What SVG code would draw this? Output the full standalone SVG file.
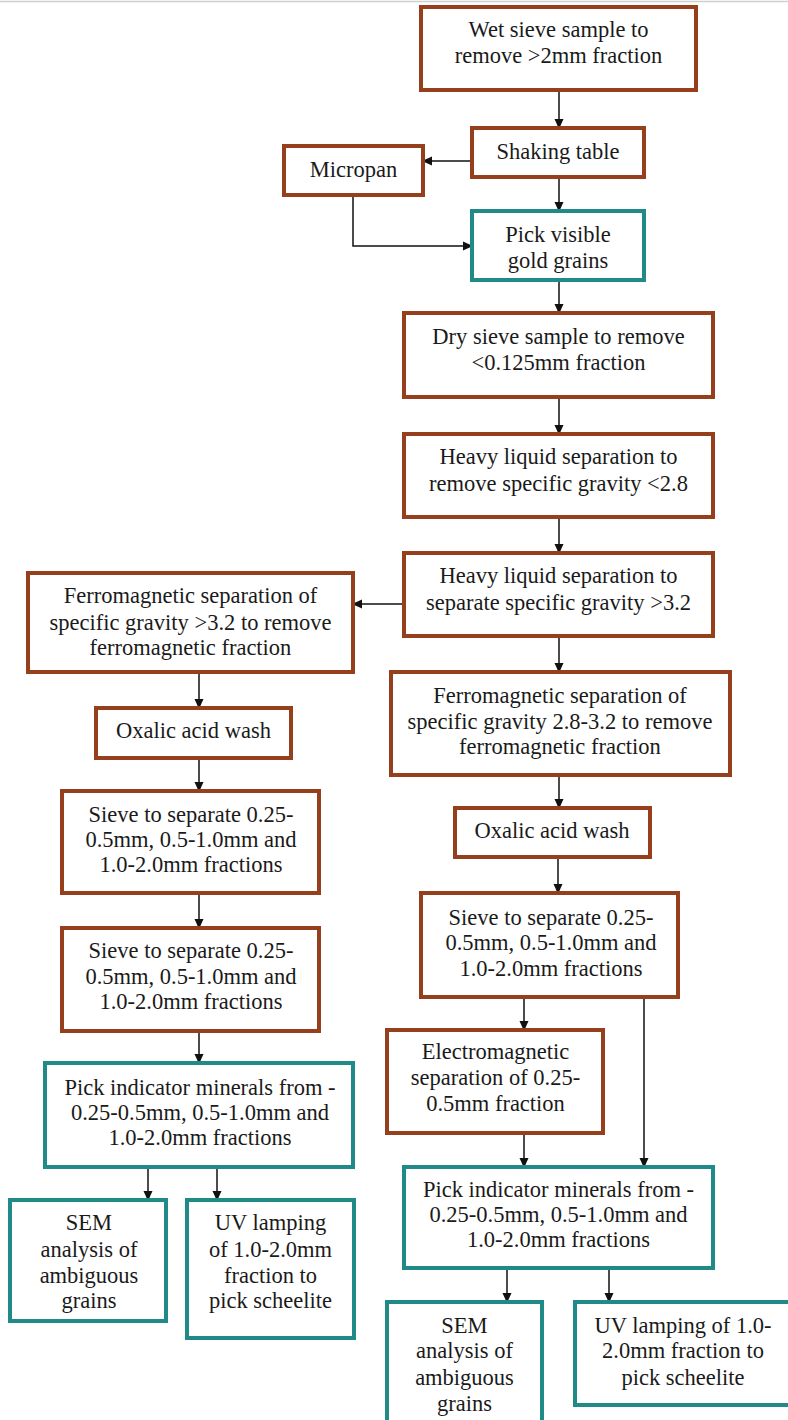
<svg xmlns="http://www.w3.org/2000/svg" width="788" height="1420" viewBox="0 0 788 1420">
<defs>
<marker id="ah" markerWidth="10" markerHeight="10" refX="9" refY="5" orient="auto" markerUnits="userSpaceOnUse">
<path d="M0,0.5 L10,5 L0,9.5 Z" fill="#111"/>
</marker>
<style>
.b{fill:#fff;stroke:#963f1c;stroke-width:4}
.t{fill:#fff;stroke:#1f8a87;stroke-width:4}
text{font-family:"Liberation Serif","Times New Roman",serif;font-size:22.5px;fill:#1a1a1a;text-anchor:middle}
.c{fill:none;stroke:#111;stroke-width:1.5;marker-end:url(#ah)}
</style>
</defs>
<rect width="788" height="1420" fill="#fff"/>
<line x1="0" y1="1.5" x2="788" y2="1.5" stroke="#cfcfcf" stroke-width="1.5"/>

<g id="connectors">
<path class="c" d="M559,90 V128"/>
<path class="c" d="M472,161 H423"/>
<path class="c" d="M559,177 V211"/>
<path class="c" d="M353,195 V246 H472"/>
<path class="c" d="M559,280 V313"/>
<path class="c" d="M559,397 V434"/>
<path class="c" d="M559,517 V553"/>
<path class="c" d="M404,604 H353"/>
<path class="c" d="M559,636 V672"/>
<path class="c" d="M559,775 V808"/>
<path class="c" d="M558,857 V893"/>
<path class="c" d="M524,997 V1030"/>
<path class="c" d="M644,997 V1167"/>
<path class="c" d="M524,1133 V1167"/>
<path class="c" d="M507,1268 V1302"/>
<path class="c" d="M609,1268 V1302"/>
<path class="c" d="M199,672 V708"/>
<path class="c" d="M199,758 V791"/>
<path class="c" d="M199,893 V928"/>
<path class="c" d="M199,1031 V1063"/>
<path class="c" d="M148,1167 V1200"/>
<path class="c" d="M217,1167 V1200"/>
</g>

<g id="wet-sieve"><rect class="b" x="421" y="7" width="275" height="83"/>
<text x="558.5" y="37">Wet sieve sample to</text><text x="558.5" y="63">remove &gt;2mm fraction</text></g>

<g id="shaking-table"><rect class="b" x="472" y="128" width="172" height="49"/>
<text x="558" y="159">Shaking table</text></g>

<g id="micropan"><rect class="b" x="284" y="146" width="139" height="49"/>
<text x="353.5" y="177">Micropan</text></g>

<g id="pick-gold"><rect class="t" x="472" y="211" width="172" height="69"/>
<text x="558" y="242">Pick visible</text><text x="558" y="268">gold grains</text></g>

<g id="dry-sieve"><rect class="b" x="404" y="313" width="309" height="84"/>
<text x="558.5" y="344">Dry sieve sample to remove</text><text x="558.5" y="370">&lt;0.125mm fraction</text></g>

<g id="heavy-28"><rect class="b" x="404" y="434" width="309" height="83"/>
<text x="558.5" y="464">Heavy liquid separation to</text><text x="558.5" y="491">remove specific gravity &lt;2.8</text></g>

<g id="heavy-32"><rect class="b" x="404" y="553" width="309" height="83"/>
<text x="558.5" y="583">Heavy liquid separation to</text><text x="558.5" y="610">separate specific gravity &gt;3.2</text></g>

<g id="ferro-left"><rect class="b" x="28" y="573" width="325" height="99"/>
<text x="190.5" y="603">Ferromagnetic separation of</text><text x="190.5" y="630">specific gravity &gt;3.2 to remove</text><text x="190.5" y="655">ferromagnetic fraction</text></g>

<g id="ferro-right"><rect class="b" x="391" y="672" width="339" height="103"/>
<text x="560" y="703">Ferromagnetic separation of</text><text x="560" y="729">specific gravity 2.8-3.2 to remove</text><text x="560" y="754">ferromagnetic fraction</text></g>

<g id="oxalic-left"><rect class="b" x="96" y="708" width="195" height="50"/>
<text x="193.5" y="738">Oxalic acid wash</text></g>

<g id="oxalic-right"><rect class="b" x="455" y="808" width="195" height="49"/>
<text x="552" y="838">Oxalic acid wash</text></g>

<g id="sieve-left-1"><rect class="b" x="62" y="791" width="257" height="102"/>
<text x="191" y="822">Sieve to separate 0.25-</text><text x="191" y="847">0.5mm, 0.5-1.0mm and</text><text x="191" y="872">1.0-2.0mm fractions</text></g>

<g id="sieve-left-2"><rect class="b" x="62" y="928" width="257" height="103"/>
<text x="191" y="958">Sieve to separate 0.25-</text><text x="191" y="984">0.5mm, 0.5-1.0mm and</text><text x="191" y="1009">1.0-2.0mm fractions</text></g>

<g id="pick-left"><rect class="t" x="45" y="1063" width="308" height="104"/>
<text x="200" y="1095">Pick indicator minerals from -</text><text x="200" y="1120">0.25-0.5mm, 0.5-1.0mm and</text><text x="200" y="1145">1.0-2.0mm fractions</text></g>

<g id="sem-left"><rect class="t" x="10" y="1200" width="156" height="121"/>
<text x="89" y="1230">SEM</text><text x="89" y="1257">analysis of</text><text x="89" y="1283">ambiguous</text><text x="89" y="1308">grains</text></g>

<g id="uv-left"><rect class="t" x="187" y="1200" width="167" height="138"/>
<text x="270.5" y="1230">UV lamping</text><text x="270.5" y="1257">of 1.0-2.0mm</text><text x="270.5" y="1283">fraction to</text><text x="270.5" y="1308">pick scheelite</text></g>

<g id="sieve-right"><rect class="b" x="421" y="893" width="257" height="104"/>
<text x="551" y="925">Sieve to separate 0.25-</text><text x="551" y="950">0.5mm, 0.5-1.0mm and</text><text x="551" y="976">1.0-2.0mm fractions</text></g>

<g id="electro"><rect class="b" x="387" y="1030" width="216" height="103"/>
<text x="495.5" y="1059">Electromagnetic</text><text x="495.5" y="1085">separation of 0.25-</text><text x="495.5" y="1111">0.5mm fraction</text></g>

<g id="pick-right"><rect class="t" x="404" y="1167" width="309" height="101"/>
<text x="558.5" y="1197">Pick indicator minerals from -</text><text x="558.5" y="1222">0.25-0.5mm, 0.5-1.0mm and</text><text x="558.5" y="1247">1.0-2.0mm fractions</text></g>

<g id="sem-right"><rect class="t" x="387" y="1302" width="155" height="130"/>
<text x="464.5" y="1333">SEM</text><text x="464.5" y="1358">analysis of</text><text x="464.5" y="1385">ambiguous</text><text x="464.5" y="1411">grains</text></g>

<g id="uv-right"><rect class="t" x="575" y="1302" width="215" height="103"/>
<text x="683" y="1333">UV lamping of 1.0-</text><text x="683" y="1358">2.0mm fraction to</text><text x="683" y="1385">pick scheelite</text></g>
</svg>
